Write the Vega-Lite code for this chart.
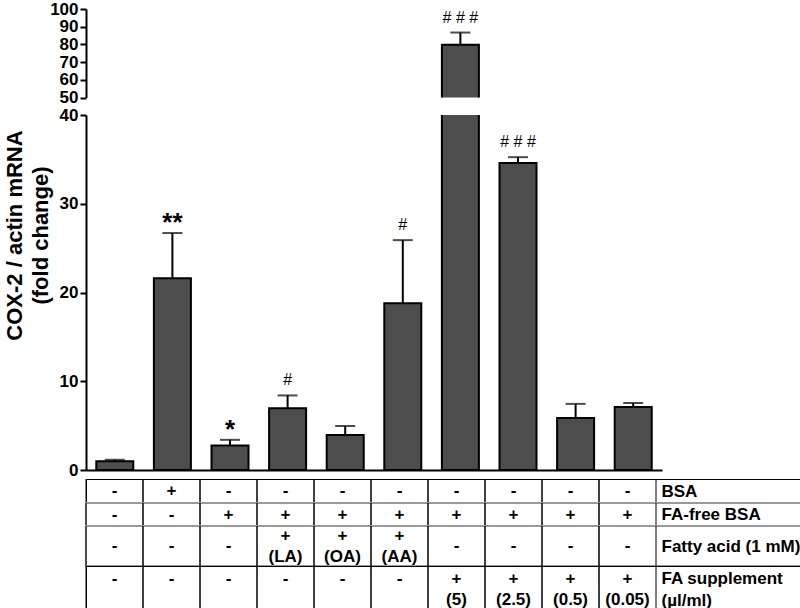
{
  "$schema": "https://vega.github.io/schema/vega-lite/v6.json",
  "padding": {"left": 3, "top": 0, "right": 0, "bottom": 0},
  "background": "white",
  "datasets": {
    "d": [
      {"g": "1", "mean": 1.0, "hi": 1.15, "ann": "", "bsa": "-", "ff": "-", "fa": "-", "sup": "-\n"},
      {"g": "2", "mean": 21.6, "hi": 26.7, "ann": "**", "bsa": "+", "ff": "-", "fa": "-", "sup": "-\n"},
      {"g": "3", "mean": 2.75, "hi": 3.4, "ann": "*", "bsa": "-", "ff": "+", "fa": "-", "sup": "-\n"},
      {"g": "4", "mean": 6.95, "hi": 8.4, "ann": "#", "bsa": "-", "ff": "+", "fa": "+\n(LA)", "sup": "-\n"},
      {"g": "5", "mean": 3.95, "hi": 4.95, "ann": "", "bsa": "-", "ff": "+", "fa": "+\n(OA)", "sup": "-\n"},
      {"g": "6", "mean": 18.8, "hi": 25.9, "ann": "#", "bsa": "-", "ff": "+", "fa": "+\n(AA)", "sup": "-\n"},
      {"g": "7", "mean": 79.8, "hi": 86.7, "ann": "# # #", "bsa": "-", "ff": "+", "fa": "-", "sup": "+\n(5)"},
      {"g": "8", "mean": 34.6, "hi": 35.25, "ann": "# # #", "bsa": "-", "ff": "+", "fa": "-", "sup": "+\n(2.5)"},
      {"g": "9", "mean": 5.85, "hi": 7.45, "ann": "", "bsa": "-", "ff": "+", "fa": "-", "sup": "+\n(0.5)"},
      {"g": "10", "mean": 7.1, "hi": 7.55, "ann": "", "bsa": "-", "ff": "+", "fa": "-", "sup": "+\n(0.05)"}
    ]
  },
  "config": {
    "view": {"stroke": null},
    "font": "Liberation Sans",
    "axis": {
      "labelFont": "Liberation Sans", "labelFontWeight": "bold", "labelFontSize": 17, "labelColor": "#000",
      "tickColor": "#000", "tickWidth": 2, "tickSize": 6, "domainColor": "#000", "domainWidth": 2,
      "labelPadding": 2, "grid": false, "labelOverlap": false,
      "titleFont": "Liberation Sans", "titleFontWeight": "bold", "titleFontSize": 22, "titleColor": "#000"
    }
  },
  "spacing": 0,
  "vconcat": [
    {
      "bounds": "flush",
      "spacing": 17,
      "vconcat": [
        {
          "data": {"name": "d"},
          "width": 576,
          "height": 88.5,
          "transform": [{"filter": "datum.mean >= 50"}],
          "encoding": {
            "x": {"field": "g", "type": "nominal", "sort": null, "axis": null,
                  "scale": {"domain": ["1", "2", "3", "4", "5", "6", "7", "8", "9", "10"], "paddingInner": 0, "paddingOuter": 0}}
          },
          "layer": [
            {
              "mark": {"type": "bar", "size": 37, "fill": "#4d4d4d", "stroke": "#000", "strokeWidth": 2, "clip": true},
              "encoding": {
                "y": {"field": "mean", "type": "quantitative", "scale": {"domain": [50, 100], "zero": false},
                      "axis": {"values": [50, 60, 70, 80, 90, 100], "tickCount": 12, "title": null, "labelOverlap": false}}
              }
            },
            {
              "mark": {"type": "rule", "color": "#000", "strokeWidth": 2},
              "encoding": {
                "y": {"field": "mean", "type": "quantitative", "scale": {"domain": [50, 100], "zero": false}},
                "y2": {"field": "hi"}
              }
            },
            {
              "mark": {"type": "tick", "color": "#000", "size": 20, "thickness": 2},
              "encoding": {
                "y": {"field": "hi", "type": "quantitative", "scale": {"domain": [50, 100], "zero": false}}
              }
            },
            {
              "mark": {"type": "text", "fontSize": 16, "font": "Liberation Sans", "baseline": "alphabetic", "dy": -10, "color": "#000"},
              "encoding": {
                "y": {"field": "hi", "type": "quantitative", "scale": {"domain": [50, 100], "zero": false}},
                "text": {"field": "ann"}
              }
            }
          ]
        },
        {
          "data": {"name": "d"},
          "width": 576,
          "height": 355,
          "encoding": {
            "x": {"field": "g", "type": "nominal", "sort": null, "scale": {"paddingInner": 0, "paddingOuter": 0},
                  "axis": {"labels": false, "ticks": false, "title": null, "domain": true, "domainWidth": 2, "domainColor": "#000"}}
          },
          "layer": [
            {
              "mark": {"type": "bar", "size": 37, "fill": "#4d4d4d", "stroke": "#000", "strokeWidth": 2, "clip": true},
              "encoding": {
                "y": {"field": "mean", "type": "quantitative", "scale": {"domain": [0, 40]},
                      "axis": {"values": [0, 10, 20, 30, 40], "tickCount": 12, "labelOverlap": false, "title": ["COX-2 / actin mRNA", "(fold change)"], "titleLineHeight": 26, "titlePadding": 7, "titleY": 120}}
              }
            },
            {
              "transform": [{"filter": "datum.hi <= 40"}],
              "mark": {"type": "rule", "color": "#000", "strokeWidth": 2},
              "encoding": {
                "y": {"field": "mean", "type": "quantitative", "scale": {"domain": [0, 40]}},
                "y2": {"field": "hi"}
              }
            },
            {
              "transform": [{"filter": "datum.hi <= 40"}],
              "mark": {"type": "tick", "color": "#000", "size": 20, "thickness": 2},
              "encoding": {
                "y": {"field": "hi", "type": "quantitative", "scale": {"domain": [0, 40]}}
              }
            },
            {
              "transform": [{"filter": "datum.hi <= 40 && indexof(datum.ann, '#') >= 0"}],
              "mark": {"type": "text", "fontSize": 16, "font": "Liberation Sans", "baseline": "alphabetic", "dy": -10, "color": "#000"},
              "encoding": {
                "y": {"field": "hi", "type": "quantitative", "scale": {"domain": [0, 40]}},
                "text": {"field": "ann"}
              }
            },
            {
              "transform": [{"filter": "datum.hi <= 40 && indexof(datum.ann, '*') >= 0"}],
              "mark": {"type": "text", "fontSize": 26, "fontWeight": "bold", "font": "Liberation Sans", "baseline": "alphabetic", "dy": -2, "color": "#000"},
              "encoding": {
                "y": {"field": "hi", "type": "quantitative", "scale": {"domain": [0, 40]}},
                "text": {"field": "ann"}
              }
            }
          ]
        }
      ]
    },
    {
      "bounds": "flush",
      "spacing": 0,
      "vconcat": [
        {
          "data": {"name": "d"}, "width": 715, "height": 24,
          "view": {"stroke": "#000", "strokeWidth": 1},
          "layer": [
            {"mark": {"type": "rule", "color": "#000", "strokeWidth": 1},
             "encoding": {"x": {"field": "g", "type": "nominal", "sort": null, "bandPosition": 0, "axis": null, "scale": {"paddingInner": 0, "paddingOuter": 0, "range": [0, 570]}}}},
            {"mark": {"type": "rule", "color": "#000", "strokeWidth": 1},
             "encoding": {"x": {"field": "g", "type": "nominal", "sort": null, "bandPosition": 1, "axis": null, "scale": {"paddingInner": 0, "paddingOuter": 0, "range": [0, 570]}}}},
            {"mark": {"type": "text", "fontSize": 17, "fontWeight": "bold", "lineBreak": "\n", "lineHeight": 21.5, "baseline": "middle", "color": "#000"},
             "encoding": {
               "x": {"field": "g", "type": "nominal", "sort": null, "axis": null, "scale": {"paddingInner": 0, "paddingOuter": 0, "range": [0, 570]}},
               "y": {"datum": "BSA", "type": "nominal", "axis": {"orient": "right", "offset": -145, "domain": false, "ticks": false, "labelAlign": "left", "labelPadding": 5, "labelBaseline": "middle", "labelLineHeight": 21.5, "labelExpr": "split(datum.label, '|')", "title": null}},
               "text": {"field": "bsa"}}}
          ]
        },
        {
          "data": {"name": "d"}, "width": 715, "height": 23,
          "view": {"stroke": "#9a9a9a", "strokeWidth": 2},
          "layer": [
            {"mark": {"type": "rule", "color": "#000", "strokeWidth": 1},
             "encoding": {"x": {"field": "g", "type": "nominal", "sort": null, "bandPosition": 0, "axis": null, "scale": {"paddingInner": 0, "paddingOuter": 0, "range": [0, 570]}}}},
            {"mark": {"type": "rule", "color": "#000", "strokeWidth": 1},
             "encoding": {"x": {"field": "g", "type": "nominal", "sort": null, "bandPosition": 1, "axis": null, "scale": {"paddingInner": 0, "paddingOuter": 0, "range": [0, 570]}}}},
            {"mark": {"type": "text", "fontSize": 17, "fontWeight": "bold", "lineBreak": "\n", "lineHeight": 21.5, "baseline": "middle", "color": "#000"},
             "encoding": {
               "x": {"field": "g", "type": "nominal", "sort": null, "axis": null, "scale": {"paddingInner": 0, "paddingOuter": 0, "range": [0, 570]}},
               "y": {"datum": "FA-free BSA", "type": "nominal", "axis": {"orient": "right", "offset": -145, "domain": false, "ticks": false, "labelAlign": "left", "labelPadding": 5, "labelBaseline": "middle", "labelLineHeight": 21.5, "labelExpr": "split(datum.label, '|')", "title": null}},
               "text": {"field": "ff"}}}
          ]
        },
        {
          "data": {"name": "d"}, "width": 715, "height": 40,
          "view": {"stroke": "#9a9a9a", "strokeWidth": 2},
          "layer": [
            {"mark": {"type": "rule", "color": "#000", "strokeWidth": 1},
             "encoding": {"x": {"field": "g", "type": "nominal", "sort": null, "bandPosition": 0, "axis": null, "scale": {"paddingInner": 0, "paddingOuter": 0, "range": [0, 570]}}}},
            {"mark": {"type": "rule", "color": "#000", "strokeWidth": 1},
             "encoding": {"x": {"field": "g", "type": "nominal", "sort": null, "bandPosition": 1, "axis": null, "scale": {"paddingInner": 0, "paddingOuter": 0, "range": [0, 570]}}}},
            {"transform": [{"filter": "indexof(datum.fa, '\\n') < 0"}],
             "mark": {"type": "text", "fontSize": 17, "fontWeight": "bold", "lineBreak": "\n", "lineHeight": 21.5, "baseline": "middle", "color": "#000"},
             "encoding": {
               "x": {"field": "g", "type": "nominal", "sort": null, "axis": null, "scale": {"paddingInner": 0, "paddingOuter": 0, "range": [0, 570]}},
               "y": {"datum": "Fatty acid (1 mM)", "type": "nominal", "axis": {"orient": "right", "offset": -145, "domain": false, "ticks": false, "labelAlign": "left", "labelPadding": 5, "labelBaseline": "middle", "labelLineHeight": 21.5, "labelExpr": "split(datum.label, '|')", "title": null}},
               "text": {"field": "fa"}}},
            {"transform": [{"filter": "indexof(datum.fa, '\\n') >= 0"}],
             "mark": {"type": "text", "fontSize": 17, "fontWeight": "bold", "lineBreak": "\n", "lineHeight": 21.5, "baseline": "middle", "dy": -10.5, "color": "#000"},
             "encoding": {
               "x": {"field": "g", "type": "nominal", "sort": null, "axis": null, "scale": {"paddingInner": 0, "paddingOuter": 0, "range": [0, 570]}},
               "text": {"field": "fa"}}}
          ]
        },
        {
          "data": {"name": "d"}, "width": 715, "height": 44,
          "view": {"stroke": "#000", "strokeWidth": 1},
          "layer": [
            {"mark": {"type": "rule", "color": "#000", "strokeWidth": 1},
             "encoding": {"x": {"field": "g", "type": "nominal", "sort": null, "bandPosition": 0, "axis": null, "scale": {"paddingInner": 0, "paddingOuter": 0, "range": [0, 570]}}}},
            {"mark": {"type": "rule", "color": "#000", "strokeWidth": 1},
             "encoding": {"x": {"field": "g", "type": "nominal", "sort": null, "bandPosition": 1, "axis": null, "scale": {"paddingInner": 0, "paddingOuter": 0, "range": [0, 570]}}}},
            {"mark": {"type": "text", "fontSize": 17, "fontWeight": "bold", "lineBreak": "\n", "lineHeight": 21.5, "baseline": "middle", "dy": -9.5, "color": "#000"},
             "encoding": {
               "x": {"field": "g", "type": "nominal", "sort": null, "axis": null, "scale": {"paddingInner": 0, "paddingOuter": 0, "range": [0, 570]}},
               "y": {"datum": "FA supplement|\u00a0\u00a0\u00a0\u00a0\u00a0\u00a0\u00a0(µl/ml)", "type": "nominal", "axis": {"orient": "right", "offset": -145, "domain": false, "ticks": false, "labelAlign": "left", "labelPadding": 5, "labelBaseline": "middle", "labelLineHeight": 21.5, "labelOffset": -9.5, "labelExpr": "split(datum.label, '|')", "title": null}},
               "text": {"field": "sup"}}}
          ]
        }
      ]
    }
  ]
}
